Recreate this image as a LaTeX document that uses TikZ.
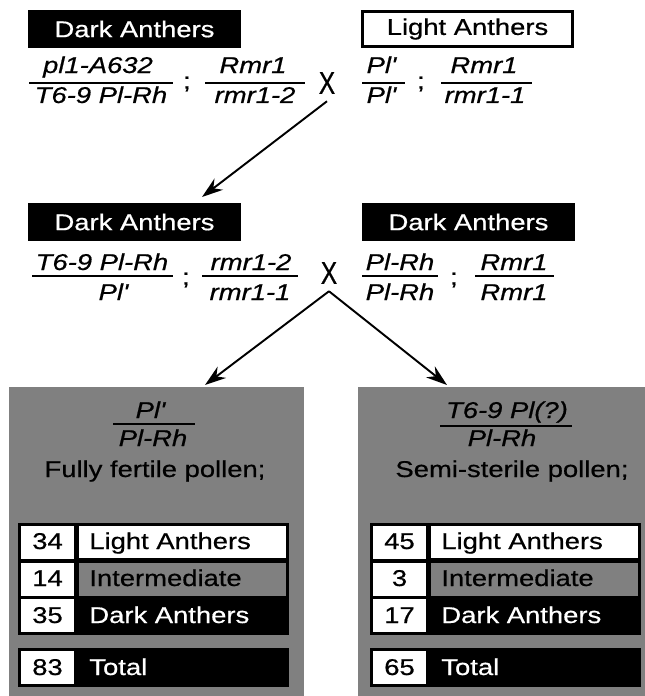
\documentclass[tikz,border=0pt]{standalone}
\usepackage{fontspec}
\setmainfont{Liberation Sans}[FakeStretch=1.2, FakeBold=0.6]
\usetikzlibrary{arrows.meta}

\tikzset{
  txt/.style={inner sep=0pt, font=\fontsize{13}{15}\selectfont},
  gen/.style={txt, anchor=base, font=\fontsize{13}{15}\selectfont\itshape},
  bar/.style={line width=1.2pt},
  hdr/.style={txt, minimum width=4.26cm, minimum height=0.76cm},
  semi/.style={inner sep=0pt, font=\fontsize{13}{15}\selectfont},
  cross/.style={inner xsep=0pt, inner ysep=4pt, font=\fontsize{18}{20}\selectfont},
  arr/.style={line width=1.1pt, -{Stealth[length=12pt,width=8pt]}}
}

\begin{document}
\begin{tikzpicture}[x=0.02cm,y=-0.02cm]
\useasboundingbox (0,0) rectangle (645,696);

% first cross
\node[hdr, fill=black, text=white] (p1) at (134.5,29) {Dark Anthers};
\node[hdr, draw, line width=1.2pt, minimum width=4.2cm, minimum height=0.7cm] (p2) at (467.5,29) {Light Anthers};
\node[gen] (g1n) at (98,73) {pl1-A632};
\node[gen] (g1d) at (101,103) {T6-9 Pl-Rh};
\draw[bar] (29,83) -- (173,83);
\node[semi] (s1) at (187,84) {;};
\node[gen] (g2n) at (253,73) {Rmr1};
\node[gen] (g2d) at (255,103) {rmr1-2};
\draw[bar] (205,83) -- (305,83);
\node[cross] (x1) at (327,83) {\scalebox{0.65}[1]{X}};
\node[gen] (g3n) at (381,73) {Pl\textquotesingle};
\node[gen] (g3d) at (381,103) {Pl\textquotesingle};
\draw[bar] (362,83) -- (405,83);
\node[semi] (s2) at (421,84) {;};
\node[gen] (g4n) at (484,73) {Rmr1};
\node[gen] (g4d) at (485,103) {rmr1-1};
\draw[bar] (441,83) -- (532,83);

\coordinate (t1) at (202,197);
\draw[arr] (x1.south) -- (t1);

% second cross
\node[hdr, fill=black, text=white] (p3) at (134.5,222) {Dark Anthers};
\node[hdr, fill=black, text=white] (p4) at (468.5,222) {Dark Anthers};
\node[gen] (g5n) at (102,270) {T6-9 Pl-Rh};
\node[gen] (g5d) at (113,300) {Pl\textquotesingle};
\draw[bar] (32,276) -- (173,276);
\node[semi] (s3) at (186,280) {;};
\node[gen] (g6n) at (251,270) {rmr1-2};
\node[gen] (g6d) at (250,300) {rmr1-1};
\draw[bar] (202,276) -- (298,276);
\node[cross] (x2) at (329,273) {\scalebox{0.65}[1]{X}};
\node[gen] (g7n) at (400,270) {Pl-Rh};
\node[gen] (g7d) at (400,300) {Pl-Rh};
\draw[bar] (362,276) -- (438,276);
\node[semi] (s4) at (454,280) {;};
\node[gen] (g8n) at (514,270) {Rmr1};
\node[gen] (g8d) at (514,300) {Rmr1};
\draw[bar] (475,276) -- (554,276);

\coordinate (t2) at (205,385);
\coordinate (t3) at (447,385);
\draw[arr] (x2.south) -- (t2);
\draw[arr] (x2.south) -- (t3);

% progeny
\fill[gray] (9,387) rectangle (304,696);
\fill[gray] (358,387) rectangle (645,696);
\node[gen] (g9n) at (150,418) {Pl\textquotesingle};
\node[gen] (g9d) at (153,446) {Pl-Rh};
\draw[bar] (113,424) -- (195,424);
\node[txt, anchor=base] (f1) at (155,477) {Fully fertile pollen;};
\node[gen] (g10n) at (507,418) {T6-9 Pl(?)};
\node[gen] (g10d) at (502,446) {Pl-Rh};
\draw[bar] (440,426) -- (572,426);
\node[txt, anchor=base] (f2) at (512,477) {Semi-sterile pollen;};

\foreach \x/\ra/\rb/\rc/\tot [count=\k] in {18/34/14/35/83, 370/45/3/17/65}
{
	\fill (\x,523) rectangle ++(271,112);
	\fill[white] (\x+60.5,526) rectangle (\x+268,558);
	\fill[gray] (\x+60.5,563) rectangle (\x+268,596);
	\foreach \y in {526,563,599}
		\fill[white] (\x+3,\y) rectangle ++(53,33);
	\node[txt, anchor=base] (n\k-1) at (\x+29.5,549) {\ra};
	\node[txt, anchor=base] (n\k-2) at (\x+29.5,586) {\rb};
	\node[txt, anchor=base] (n\k-3) at (\x+29.5,623) {\rc};
	\node[txt, anchor=base west] (l\k-1) at (\x+71,549) {Light Anthers};
	\node[txt, anchor=base west, text=black] (l\k-2) at (\x+71,586) {Intermediate};
	\node[txt, anchor=base west, text=white] (l\k-3) at (\x+71,623) {Dark Anthers};
	\fill (\x,648) rectangle ++(271,39);
	\fill[white] (\x+3,651) rectangle ++(53,33);
	\node[txt, anchor=base] (n\k-t) at (\x+29.5,675) {\tot};
	\node[txt, anchor=base west, text=white] (l\k-t) at (\x+71,675) {Total};
}
\end{tikzpicture}
\end{document}
